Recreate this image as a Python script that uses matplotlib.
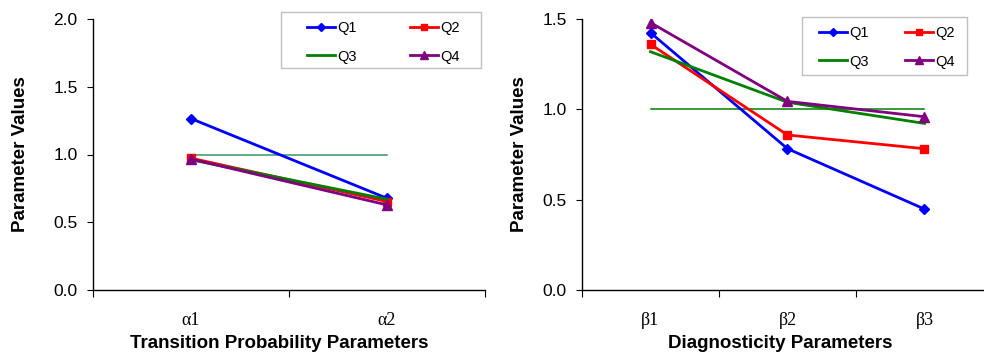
import numpy as np
import matplotlib.pyplot as plt
from matplotlib.patches import Rectangle

# left panel: transition probability parameters
alpha_labels = ['\u03b11', '\u03b12']
alpha_q1 = [1.265, 0.677]
alpha_q2 = [0.973, 0.653]
alpha_q3 = [0.961, 0.670]
alpha_q4 = [0.966, 0.628]

# right panel: diagnosticity parameters
beta_labels = ['\u03b21', '\u03b22', '\u03b23']
beta_q1 = [1.424, 0.782, 0.448]
beta_q2 = [1.360, 0.858, 0.782]
beta_q3 = [1.319, 1.039, 0.922]
beta_q4 = [1.480, 1.044, 0.959]

ref_value = 1.0

plt.rcParams['font.family'] = ['Liberation Sans', 'DejaVu Sans']

W, H = 984, 354
fig = plt.figure(figsize=(9.84, 3.54), dpi=100)
ax1 = fig.add_axes([93 / W, 1 - 290 / H, 392 / W, 271 / H])
ax2 = fig.add_axes([582 / W, 1 - 290 / H, 411 / W, 271 / H])

styles = [('Q1', '#0000ff', 'D', 5.5),
          ('Q2', '#ff0000', 's', 6),
          ('Q3', '#008000', None, 0),
          ('Q4', '#800080', '^', 7)]


def draw(ax, labels, series, ymax, yticks, xlabel, ref_color,
         ylab_x, xlab_x, frame_px, leg_px, colspace):
    x = np.arange(1, len(labels) + 1)
    ax.plot([x[0], x[-1]], [ref_value, ref_value], color=ref_color, lw=1.1, zorder=2)
    handles = []
    for (name, col, mk, ms), vals in zip(styles, series):
        h, = ax.plot(x, vals, color=col, lw=2.0, marker=mk, markersize=ms,
                     label=name, zorder=3)
        handles.append(h)
    ax.set_xlim(0.5, len(labels) + 0.5)
    ax.set_ylim(0, ymax)
    ax.set_yticks(yticks)
    ax.set_yticklabels(['%.1f' % v for v in yticks], fontsize=12.5)
    ax.set_xticks(x)
    ax.set_xticklabels(labels, family='Liberation Serif', fontsize=13)
    ax.set_xticks(np.arange(0.5, len(labels) + 1), minor=True)
    ax.tick_params(axis='x', which='major', length=0, pad=16)
    ax.tick_params(axis='x', which='minor', length=5, direction='out', width=0.8)
    ax.tick_params(axis='y', length=4, direction='out', width=0.8, pad=7)
    for s in ['top', 'right']:
        ax.spines[s].set_visible(False)
    for s in ['left', 'bottom']:
        ax.spines[s].set_linewidth(1.0)
        ax.spines[s].set_color('black')
    ax.set_xlabel(xlabel, fontsize=13.5, fontweight='bold')
    ax.xaxis.set_label_coords(xlab_x, -53 / 271)
    ax.xaxis.label.set_va('center')
    ax.set_ylabel('Parameter Values', fontsize=13.5, fontweight='bold')
    ax.yaxis.set_label_coords(ylab_x, 0.5)
    ax.yaxis.label.set_va('center')
    # legend frame
    fx0, fy0, fx1, fy1 = frame_px
    fig.patches.append(Rectangle((fx0 / W, 1 - fy1 / H), (fx1 - fx0) / W,
                                 (fy1 - fy0) / H, transform=fig.transFigure,
                                 facecolor='white', edgecolor='#c0c0c0', lw=1.0,
                                 zorder=5))
    order = [handles[0], handles[2], handles[1], handles[3]]
    leg = fig.legend(order, [h.get_label() for h in order], ncol=2, fontsize=10.5,
                     handlelength=1.9, columnspacing=colspace, handletextpad=0.15,
                     labelspacing=1.0, borderpad=0, borderaxespad=0, frameon=False,
                     markerscale=0.75, loc='upper left',
                     bbox_to_anchor=(leg_px[0] / W, 1 - leg_px[1] / H),
                     bbox_transform=fig.transFigure)
    leg.set_zorder(6)


draw(ax1, alpha_labels, [alpha_q1, alpha_q2, alpha_q3, alpha_q4], 2.0,
     [0.0, 0.5, 1.0, 1.5, 2.0], 'Transition Probability Parameters', '#339966',
     (21 - 93) / 392, (279 - 93) / 392, (281, 12, 481, 68), (307, 21), 3.7)
draw(ax2, beta_labels, [beta_q1, beta_q2, beta_q3, beta_q4], 1.5,
     [0.0, 0.5, 1.0, 1.5], 'Diagnosticity Parameters', '#008000',
     (520 - 582) / 411, (780 - 582) / 411, (802, 17, 967, 75), (819, 26), 2.5)

fig.savefig('out.png', dpi=100)
